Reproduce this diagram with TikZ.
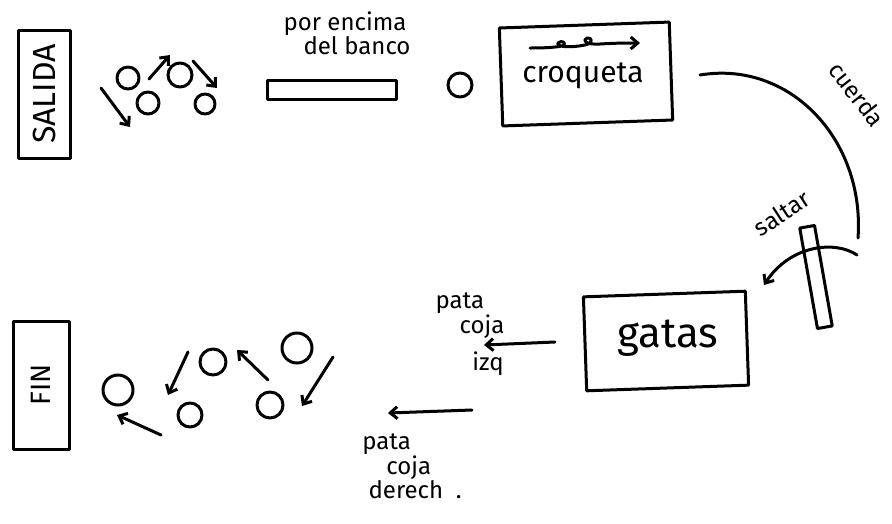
\documentclass[tikz,border=0pt]{standalone}
\usepackage{fontspec}
\setmainfont{Fira Sans}
\usetikzlibrary{arrows.meta}
\begin{document}
\begin{tikzpicture}[x=1pt,y=-1pt,
  ink/.style={line width=3pt,line cap=round,line join=round},
  box/.style={ink,draw,rectangle,inner sep=0pt},
  ring/.style={ink,draw,circle,inner sep=0pt},
  arr/.style={ink,-{Straight Barb[length=7pt,width=12pt,line width=3pt]}},
  lbl/.style={font=\fontsize{24}{22}\selectfont,align=center,inner sep=0pt}
]
\useasboundingbox (0,0) rectangle (892,523);
% SALIDA
\node[box,minimum width=52pt,minimum height=128pt] (salida) at (44,94) {};
\node[lbl,rotate=90,font=\fontsize{32}{32}\selectfont] (salidat) at (44,94) {SALIDA};
% top circles
\node[ring,minimum size=22pt] (c1) at (128,78) {};
\node[ring,minimum size=24pt] (c2) at (180,75) {};
\node[ring,minimum size=22pt] (c3) at (148,103) {};
\node[ring,minimum size=20pt] (c4) at (205,104) {};
\coordinate (a1s) at (101,88); \coordinate (a1e) at (130,127);
\coordinate (a2s) at (149,79); \coordinate (a2e) at (170,55);
\coordinate (a3s) at (193,61); \coordinate (a3e) at (217,88);
\draw[arr] (a1s) -- (a1e);
\draw[arr] (a2s) -- (a2e);
\draw[arr] (a3s) -- (a3e);
% bench
\node[box,minimum width=129pt,minimum height=19pt] (banco) at (332,90) {};
\node[lbl] (bancot) at (345,33) {por encima\\ \quad del banco};
% circle before croqueta
\node[ring,minimum size=24pt] (c5) at (460,85) {};
% croqueta
\node[box,rotate=2,minimum width=170pt,minimum height=98pt] (croq) at (586,74) {};
\node[lbl,font=\fontsize{30}{30}\selectfont] (croqt) at (583,76) {croqueta};
\coordinate (cas) at (530,48); \coordinate (cae) at (640,43);
\draw[arr] (cas) .. controls (550,48) and (556,47) .. (562,46)
  .. controls (568,44) and (562,39) .. (558,43)
  .. controls (556,47) and (570,48) .. (585,45)
  .. controls (594,43) and (592,37) .. (587,38)
  .. controls (582,40) and (585,45) .. (600,44)
  .. controls (615,43) and (630,43) .. (cae);
% cuerda
\coordinate (cus) at (700,75); \coordinate (cue) at (858,238);
\draw[ink] (cus) .. controls (790,60) and (865,140) .. (cue);
\node[lbl,rotate=-52] (cuerdat) at (857,94) {cuerda};
% saltar pillar
\node[box,rotate=10,minimum width=15pt,minimum height=102pt] (pilar) at (816,277) {};
\node[lbl,rotate=33] (saltart) at (782,213) {saltar};
\coordinate (sas) at (857,255); \coordinate (sae) at (764,285);
\draw[arr] (sas) .. controls (835,240) and (790,245) .. (sae);
% gatas
\node[box,rotate=2,minimum width=162pt,minimum height=94pt] (gatas) at (666,341) {};
\node[lbl,font=\fontsize{42}{42}\selectfont] (gatast) at (668,338) {gatas};
% pata coja izq
\coordinate (pis) at (555,342); \coordinate (pie) at (484,345);
\draw[arr] (pis) -- (pie);
\node[lbl,align=left] (izq1) at (470,316) {pata\\ \quad coja};
\node[lbl] (izq2) at (488,364) {izq};
% pata coja derech
\coordinate (pds) at (472,410); \coordinate (pde) at (388,413);
\draw[arr] (pds) -- (pde);
\node[lbl,align=left] (dert) at (412,466) {pata\\ \quad coja\\ \ derech\ \ .};
% FIN
\node[box,minimum width=56pt,minimum height=128pt] (fin) at (41,385) {};
\node[lbl,rotate=90,font=\fontsize{28}{28}\selectfont] (fint) at (41,385) {FIN};
% bottom circles
\node[ring,minimum size=30pt] (d1) at (118,390) {};
\node[ring,minimum size=26pt] (d2) at (213,362) {};
\node[ring,minimum size=30pt] (d3) at (297,348) {};
\node[ring,minimum size=24pt] (d4) at (190,415) {};
\node[ring,minimum size=26pt] (d5) at (270,405) {};
\coordinate (b1s) at (188,352); \coordinate (b1e) at (168,395);
\coordinate (b2s) at (268,380); \coordinate (b2e) at (237,350);
\coordinate (b3s) at (333,357); \coordinate (b3e) at (302,406);
\coordinate (b4s) at (161,435); \coordinate (b4e) at (117,415);
\draw[arr] (b1s) -- (b1e);
\draw[arr] (b2s) -- (b2e);
\draw[arr] (b3s) -- (b3e);
\draw[arr] (b4s) -- (b4e);
\end{tikzpicture}
\end{document}
